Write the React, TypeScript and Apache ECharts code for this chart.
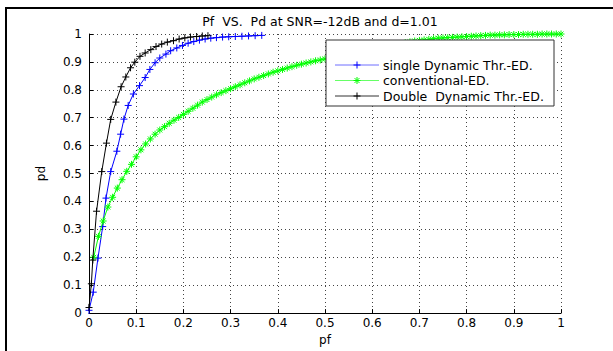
import React, { useEffect, useRef } from "react";
import * as echarts from "echarts";

const titleText = "Pf  VS.  Pd at SNR=-12dB and d=1.01";
const xAxisName = "pf";
const yAxisName = "pd";
const seriesNames = ["single Dynamic Thr.-ED.", "conventional-ED.", "Double  Dynamic Thr.-ED."];
const seriesColors = ["#0000ff", "#00ff00", "#000000"];

const blueX = [0, 0.009, 0.019, 0.029, 0.036, 0.046, 0.059, 0.067, 0.074, 0.083, 0.094, 0.107, 0.119, 0.129, 0.14, 0.15, 0.163, 0.173, 0.186, 0.198, 0.21, 0.222, 0.234, 0.246, 0.258, 0.27, 0.283, 0.296, 0.31, 0.324, 0.338, 0.352, 0.366];
const blueY = [0.01, 0.075, 0.197, 0.31, 0.412, 0.507, 0.58, 0.641, 0.695, 0.744, 0.785, 0.815, 0.844, 0.873, 0.897, 0.914, 0.928, 0.94, 0.95, 0.959, 0.967, 0.973, 0.978, 0.982, 0.985, 0.987, 0.989, 0.99, 0.991, 0.992, 0.993, 0.994, 0.995];

const greenX = [0.01, 0.02, 0.03, 0.04, 0.05, 0.06, 0.07, 0.08, 0.09, 0.1, 0.11, 0.12, 0.13, 0.14, 0.15, 0.16, 0.17, 0.18, 0.19, 0.2, 0.21, 0.22, 0.23, 0.24, 0.25, 0.26, 0.27, 0.28, 0.29, 0.3, 0.31, 0.32, 0.33, 0.34, 0.35, 0.36, 0.37, 0.38, 0.39, 0.4, 0.41, 0.42, 0.43, 0.44, 0.45, 0.46, 0.47, 0.48, 0.49, 0.5, 0.51, 0.52, 0.53, 0.54, 0.55, 0.56, 0.57, 0.58, 0.59, 0.6, 0.61, 0.62, 0.63, 0.64, 0.65, 0.66, 0.67, 0.68, 0.69, 0.7, 0.71, 0.72, 0.73, 0.74, 0.75, 0.76, 0.77, 0.78, 0.79, 0.8, 0.81, 0.82, 0.83, 0.84, 0.85, 0.86, 0.87, 0.88, 0.89, 0.9, 0.91, 0.92, 0.93, 0.94, 0.95, 0.96, 0.97, 0.98, 0.99, 1.0];
const greenY = [0.2, 0.275, 0.33, 0.38, 0.415, 0.448, 0.478, 0.508, 0.533, 0.56, 0.585, 0.606, 0.624, 0.641, 0.656, 0.668, 0.68, 0.691, 0.701, 0.712, 0.723, 0.734, 0.745, 0.756, 0.765, 0.774, 0.782, 0.79, 0.797, 0.804, 0.811, 0.818, 0.825, 0.832, 0.839, 0.845, 0.851, 0.857, 0.863, 0.868, 0.873, 0.878, 0.883, 0.888, 0.892, 0.896, 0.9, 0.904, 0.907, 0.911, 0.915, 0.919, 0.923, 0.927, 0.931, 0.935, 0.938, 0.942, 0.945, 0.948, 0.951, 0.954, 0.957, 0.96, 0.963, 0.966, 0.969, 0.972, 0.975, 0.977, 0.979, 0.981, 0.983, 0.985, 0.986, 0.987, 0.988, 0.989, 0.99, 0.991, 0.992, 0.993, 0.994, 0.995, 0.996, 0.996, 0.997, 0.997, 0.998, 0.998, 0.998, 0.999, 0.999, 0.999, 0.999, 1, 1, 1, 1, 1];

const blackX = [0, 0.005, 0.008, 0.016, 0.027, 0.037, 0.046, 0.057, 0.068, 0.078, 0.088, 0.097, 0.108, 0.119, 0.131, 0.142, 0.154, 0.166, 0.179, 0.191, 0.203, 0.215, 0.228, 0.24, 0.252];
const blackY = [0.02, 0.105, 0.19, 0.365, 0.507, 0.609, 0.694, 0.756, 0.811, 0.846, 0.879, 0.899, 0.92, 0.932, 0.944, 0.955, 0.964, 0.971, 0.976, 0.982, 0.986, 0.989, 0.991, 0.993, 0.994];

const PLUS = "path://M5,0L5,10M0,5L10,5";
const STAR = "path://M5,0L5,10M0,5L10,5M1.5,1.5L8.5,8.5M8.5,1.5L1.5,8.5";

const FONT = "DejaVu Sans";

function zip(xs: number[], ys: number[]) {
  return xs.map((x, i) => [x, ys[i]]);
}

function markerLines(cx: number, cy: number, r: number, star: boolean, color: string) {
  const els: any[] = [
    { type: "line", z: 101, shape: { x1: cx - r, y1: cy, x2: cx + r, y2: cy }, style: { stroke: color, lineWidth: 1 } },
    { type: "line", z: 101, shape: { x1: cx, y1: cy - r, x2: cx, y2: cy + r }, style: { stroke: color, lineWidth: 1 } },
  ];
  if (star) {
    const d = r * 0.7;
    els.push({ type: "line", z: 101, shape: { x1: cx - d, y1: cy - d, x2: cx + d, y2: cy + d }, style: { stroke: color, lineWidth: 1 } });
    els.push({ type: "line", z: 101, shape: { x1: cx + d, y1: cy - d, x2: cx - d, y2: cy + d }, style: { stroke: color, lineWidth: 1 } });
  }
  return els;
}

export default function App() {
  const ref = useRef<HTMLDivElement>(null);
  useEffect(() => {
    if (!ref.current) return;
    const chart = echarts.init(ref.current, undefined, { renderer: "svg" });
    const datasets = [zip(blueX, blueY), zip(greenX, greenY), zip(blackX, blackY)];
    const symbols = [PLUS, STAR, PLUS];
    const legendRows = [65, 80.5, 96];
    const legendEls: any[] = [
      { type: "rect", z: 100, shape: { x: 326, y: 40, width: 228, height: 66 }, style: { fill: "#ffffff", stroke: "#333333", lineWidth: 1 } },
    ];
    seriesNames.forEach((name, i) => {
      const y = legendRows[i];
      const c = i === 0 ? "#6f6fff" : i === 1 ? "#66ff66" : "#333333";
      legendEls.push({ type: "line", z: 101, shape: { x1: 335, y1: y, x2: 379, y2: y }, style: { stroke: c, lineWidth: 1 } });
      legendEls.push(...markerLines(357, y, 3.5, i === 1, seriesColors[i]));
      legendEls.push({ type: "text", z: 101, x: 383, y: y, style: { text: name, fill: "#000", font: `12.5px '${FONT}'`, textVerticalAlign: "middle", textAlign: "left" } });
    });
    chart.setOption({
      animation: false,
      backgroundColor: "#ffffff",
      title: {
        text: titleText,
        left: 320,
        top: 15,
        padding: 0,
        textAlign: "center",
        textStyle: { fontFamily: FONT, fontSize: 12.5, fontWeight: "normal", color: "#000" },
      },
      grid: { left: 89, right: 52, top: 34, bottom: 33, containLabel: false },
      xAxis: {
        type: "value",
        min: 0,
        max: 1,
        interval: 0.1,
        name: xAxisName,
        nameLocation: "middle",
        nameGap: 16,
        nameTextStyle: { fontFamily: FONT, fontSize: 12, color: "#000" },
        axisLine: { show: true, onZero: false, lineStyle: { color: "#000", width: 1 } },
        axisTick: { show: true, inside: true, length: 4, lineStyle: { color: "#000" } },
        axisLabel: { margin: 4, fontFamily: FONT, fontSize: 12, color: "#000" },
        splitLine: { show: true, lineStyle: { color: "#444", width: 1, type: [1, 3] } },
      },
      yAxis: {
        type: "value",
        min: 0,
        max: 1,
        interval: 0.1,
        name: yAxisName,
        nameLocation: "middle",
        nameGap: 42,
        nameTextStyle: { fontFamily: FONT, fontSize: 12, color: "#000" },
        axisLine: { show: true, onZero: false, lineStyle: { color: "#000", width: 1 } },
        axisTick: { show: true, inside: true, length: 4, lineStyle: { color: "#000" } },
        axisLabel: { margin: 7, fontFamily: FONT, fontSize: 12, color: "#000" },
        splitLine: { show: true, lineStyle: { color: "#444", width: 1, type: [1, 3] } },
      },
      series: seriesNames.map((name, i) => ({
        name,
        type: "line",
        data: datasets[i],
        symbol: symbols[i],
        symbolSize: 7,
        showSymbol: true,
        showAllSymbol: true,
        lineStyle: { color: seriesColors[i], width: 1 },
        itemStyle: { color: seriesColors[i], borderColor: seriesColors[i], borderWidth: 1 },
        z: 2 + i,
      })),
      graphic: [
        { type: "group", z: 100, children: legendEls },
        { type: "rect", z: 100, shape: { x: 6, y: 8, width: 700, height: 400 }, style: { fill: "none", stroke: "#000", lineWidth: 2 } },
      ],
    });
    return () => chart.dispose();
  }, []);
  return <div ref={ref} style={{ position: "absolute", left: 0, top: 0, width: 613, height: 351 }} />;
}
